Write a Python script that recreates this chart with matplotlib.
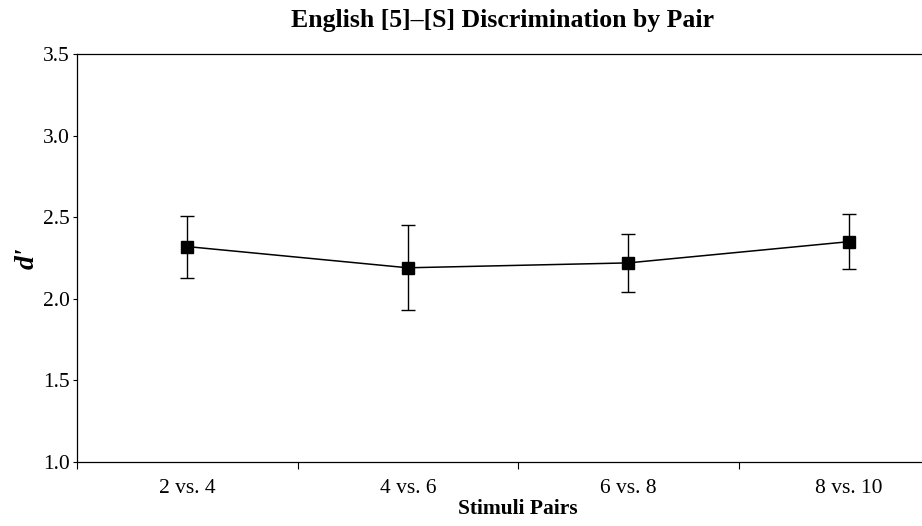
import matplotlib
matplotlib.use("Agg")
import matplotlib.pyplot as plt

plt.rcParams['font.family'] = ['Liberation Serif', 'DejaVu Serif']

# datos
pares = ['2 vs. 4', '4 vs. 6', '6 vs. 8', '8 vs. 10']
d_prima = [2.32, 2.19, 2.22, 2.35]
error = [0.19, 0.26, 0.18, 0.17]

fig = plt.figure(figsize=(9.22, 5.26), dpi=100)
ax = fig.add_axes([77/922, 1 - 462/526, (959 - 77)/922, (462 - 54)/526])

x = list(range(len(pares)))
ax.errorbar(x, d_prima, yerr=error, color='black', linewidth=1.1,
            marker='s', markersize=8, capsize=5, elinewidth=1.0, capthick=1.0)

ax.set_xlim(-0.48, 3.5)
ax.set_ylim(1.0, 3.5)
ax.set_yticks([1.0, 1.5, 2.0, 2.5, 3.0, 3.5])
ax.set_yticklabels(['1.0', '1.5', '2.0', '2.5', '3.0', '3.5'])
ax.set_xticks(x)
ax.set_xticklabels(pares)
ax.tick_params(axis='x', length=0, labelsize=15.5, pad=12)
ax.tick_params(axis='y', length=3, width=0.8, labelsize=15.5, pad=2)
ax.set_xticks([-0.5, 0.5, 1.5, 2.5], minor=True)
ax.tick_params(axis='x', which='minor', length=5, width=0.8)

for s in ax.spines.values():
    s.set_linewidth(0.9)

ax.set_xlabel('Stimuli Pairs', fontsize=15.5, fontweight='bold', labelpad=1)
ax.set_ylabel("d'", fontsize=20, fontweight='bold', style='italic', va='center')
ax.yaxis.set_label_coords(-50/882, 0.5)
fig.text(502/922, 1 - 20/526, 'English [5]–[S] Discrimination by Pair',
         ha='center', va='center', fontsize=18.5, fontweight='bold')

fig.savefig('out.png', dpi=100)
